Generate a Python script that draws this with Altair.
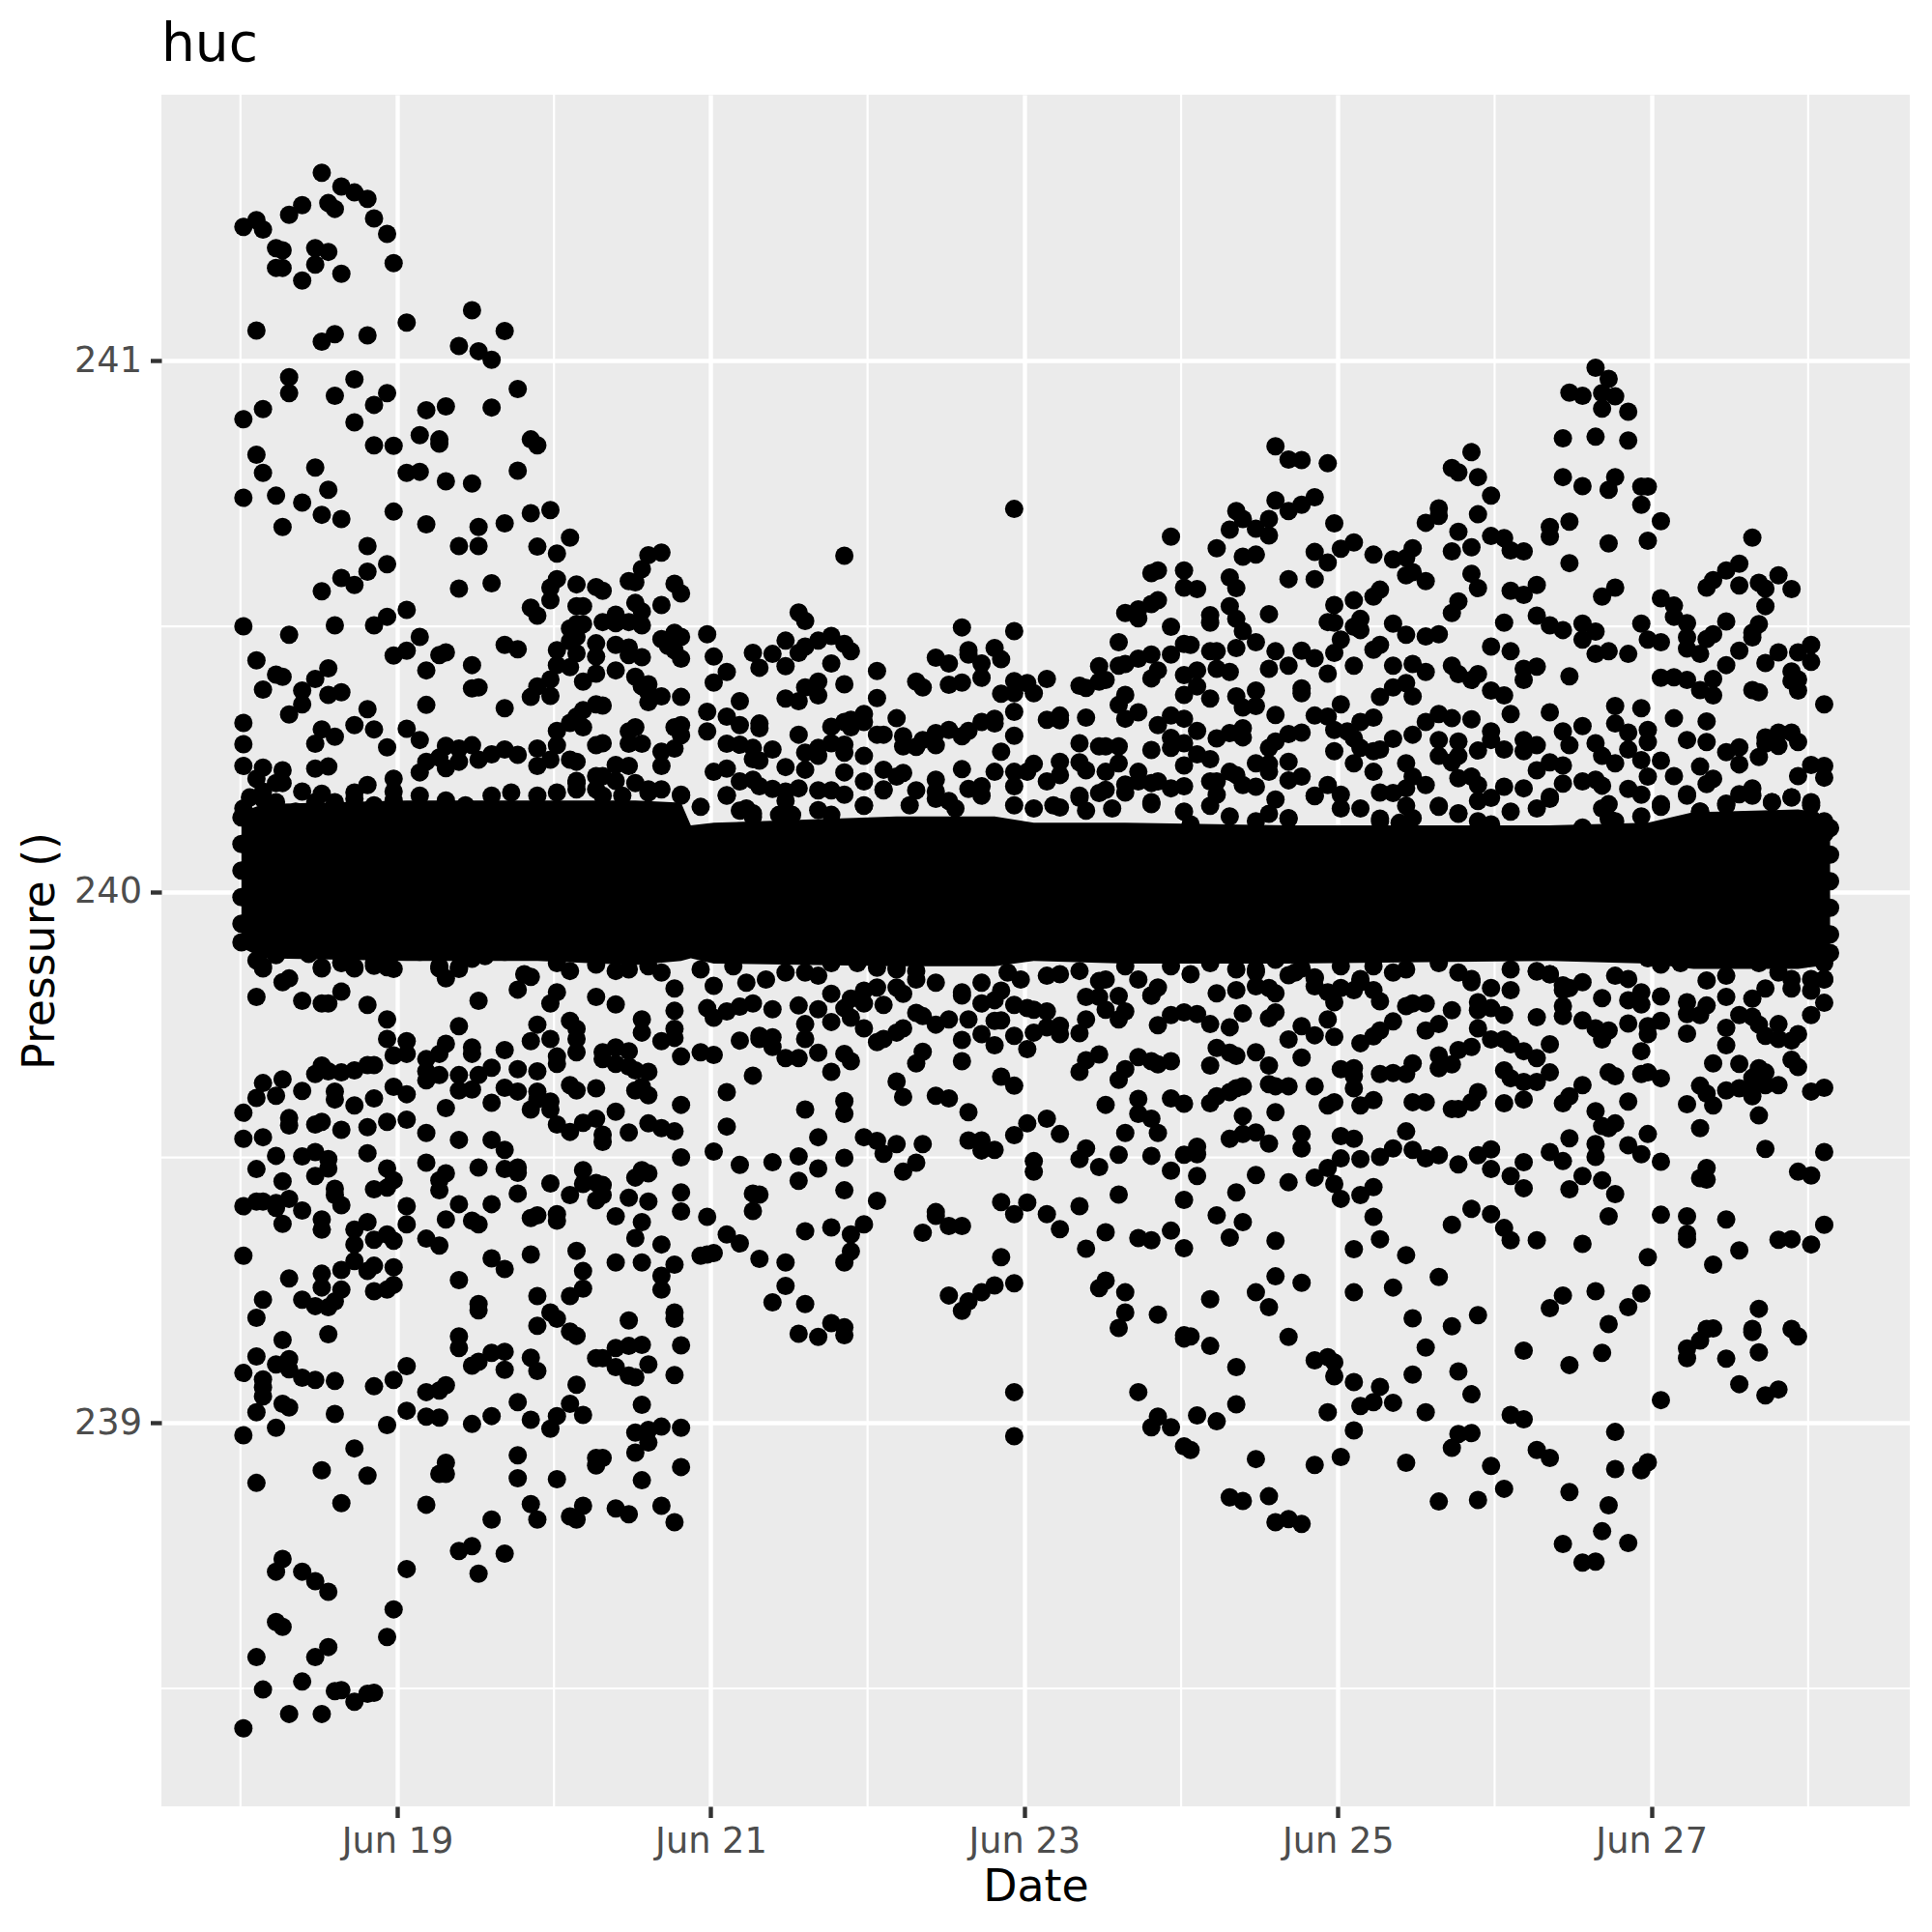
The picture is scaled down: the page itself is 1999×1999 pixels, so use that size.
import altair as alt
import pandas as pd

START = "2020-06-18 00:27"

# (hours since start, pressure), Jun 18 - Jun 21, above the dense band
upper_a = [(12,241.354),(15,241.328),(17,241.317),(19,241.305),(9,241.293),(7,241.275),(13,241.297),(14,241.286),(20,241.268),(2,241.265),(0,241.252),(3,241.247),(22,241.239),(5,241.212),(6,241.208),(11,241.212),(13,241.205),(5,241.175),(6,241.175),(11,241.181),(9,241.151),(15,241.164),(23,241.184),(35,241.095),(25,241.072),(2,241.057),(40,241.056),(14,241.05),(12,241.036),(19,241.048),(33,241.028),(36,241.018),(38,241.002),
(7,240.969),(7,240.939),(17,240.965),(42,240.947),(22,240.939),(14,240.934),(20,240.917),(31,240.914),(28,240.907),(38,240.912),(3,240.909),(0,240.89),(17,240.884),(27,240.86),(30,240.852),(30,240.844),(20,240.841),(23,240.84),(44,240.852),(45,240.841),(2,240.823),(11,240.799),(3,240.789),(25,240.789),(27,240.791),(31,240.773),(35,240.769),(42,240.793),(0,240.742),(5,240.746),(9,240.733),(13,240.757),(12,240.71),(15,240.702),(6,240.687),(23,240.716),(28,240.692),(36,240.687),(40,240.694),(44,240.713),(47,240.719),(50,240.667),(45,240.65),(48,240.637),(33,240.651),(36,240.651),(19,240.651),(22,240.617),(19,240.603),(15,240.591),(17,240.578),(12,240.566),(33,240.571),(38,240.581),(48,240.589),(47,240.573),(47,240.549),(51,240.579),(54,240.574),(55,240.567),(51,240.538),(52,240.538),(44,240.535),(45,240.52),
(64,240.639),(62,240.634),(61,240.608),(59,240.585),(60,240.583),(66,240.58),(67,240.562),(60,240.544),(64,240.54),(61,240.528),(25,240.531),(22,240.518),(20,240.502),(0,240.5),(14,240.502),(7,240.484),(27,240.48),(50,240.496),(51,240.504),(52,240.504),(51,240.48),(50,240.472),(55,240.508),(57,240.522),(57,240.506),(59,240.508),(61,240.502),(64,240.476),(66,240.488),(67,240.48),(65,240.463),(66,240.455),(67,240.439),(40,240.465),(42,240.457),(31,240.451),(30,240.446),(25,240.454),(23,240.445),(48,240.455),(54,240.468),(51,240.449),(54,240.443),(57,240.465),(59,240.46),(59,240.446),(61,240.442),(2,240.436),(13,240.421),(28,240.417),(35,240.427),(5,240.409),(6,240.405),(11,240.401),(3,240.381),(9,240.379),
(48,240.427),(50,240.423),(54,240.411),(57,240.417),(52,240.396),(47,240.4),(45,240.387),(47,240.369),(44,240.367),(60,240.405),(61,240.387),(62,240.391),(62,240.375),(64,240.368),(62,240.357),(67,240.367),(36,240.385),(35,240.383),(13,240.371),(15,240.376),(9,240.353),(7,240.334),(28,240.352),(40,240.346),(19,240.344),(54,240.353),(55,240.351),(52,240.342),(51,240.33),(50,240.318),(52,240.31),(48,240.303),(0,240.318),(0,240.278),(0,240.237),(17,240.314),(20,240.306),(25,240.307),(27,240.286),(12,240.306),(14,240.292),(11,240.279),(22,240.272),(60,240.31),(59,240.302),(59,240.279),(61,240.279),(66,240.31),(67,240.314),(67,240.295),(66,240.27),(64,240.264),(64,240.237),(54,240.276),(55,240.28),
(31,240.275),(33,240.27),(35,240.276),(38,240.259),(40,240.268),(42,240.258),(45,240.27),(48,240.276),(28,240.245),(30,240.253),(33,240.245),(36,240.249),(31,240.233),(45,240.237),(47,240.249),(50,240.249),(51,240.245),(27,240.225),(57,240.239),(59,240.237),(3,240.234),(6,240.229),(2,240.213),(5,240.205),(6,240.205),(11,240.232),(13,240.236),(23,240.213),(23,240.189),(19,240.201),(17,240.187),(9,240.189),(12,240.185),(3,240.189),(51,240.209),(51,240.193),(54,240.218),(57,240.209),(55,240.218),(54,240.193),(60,240.205),(62,240.193),(64,240.193),(67,240.183)]

# Jun 18 - Jun 21, below the dense band
lower_a = [(2,239.802),(6,239.83),(7,239.837),(9,239.795),(12,239.79),(13,239.79),(15,239.812),(19,239.787),(3,239.856),(12,239.856),(15,239.866),(17,239.856),(20,239.861),(23,239.855),(30,239.856),(31,239.837),(33,239.855),(35,239.874),(22,239.76),(22,239.723),(25,239.719),(25,239.695),(23,239.692),(36,239.795),(33,239.747),(31,239.714),(30,239.695),(28,239.685),(28,239.662),(28,239.645),(30,239.655),(35,239.707),(35,239.695),(40,239.702),(38,239.669),(42,239.666),(36,239.655),(33,239.655),(33,239.626),(35,239.628),(45,239.662),(43,239.845),(44,239.84),(42,239.816),(48,239.811),(47,239.79),(45,239.75),(44,239.719),(47,239.723),(50,239.757),(51,239.742),(51,239.723),(51,239.698),(54,239.802),(57,239.788),(61,239.76),(61,239.735),(66,239.818),(66,239.776),(66,239.742),(66,239.725),(64,239.719),(48,239.69),(48,239.676),
(55,239.698),(57,239.707),(59,239.7),(55,239.685),(57,239.676),(59,239.671),(60,239.664),(62,239.661),(67,239.69),(70,239.698),(50,239.636),(51,239.626),(54,239.63),(60,239.626),(61,239.633),(62,239.617),(40,239.631),(42,239.624),(45,239.624),(45,239.609),(47,239.605),(44,239.59),(47,239.59),(38,239.603),(31,239.593),(23,239.633),(25,239.619),(20,239.611),(17,239.598),(14,239.624),(14,239.609),(9,239.625),(6,239.647),(3,239.64),(2,239.612),(5,239.616),(11,239.657),(12,239.673),(13,239.662),(15,239.66),(17,239.664),(19,239.674),(20,239.674),(0,239.584),(0,239.535),(3,239.538),(7,239.574),(7,239.56),(11,239.562),(12,239.567),(15,239.552),(19,239.557),(22,239.567),(25,239.571),(28,239.546),(33,239.533),(38,239.533),(40,239.514),(48,239.562),(50,239.548),(52,239.565),(54,239.573),(55,239.543),(55,239.529),(57,239.586),(59,239.547),(62,239.564),(64,239.555),(66,239.549),(67,239.599),
(5,239.503),(9,239.502),(11,239.51),(13,239.497),(13,239.479),(11,239.465),(19,239.508),(2,239.478),(6,239.455),(28,239.49),(22,239.479),(23,239.457),(22,239.443),(20,239.44),(14,239.441),(14,239.429),(15,239.41),(0,239.408),(2,239.417),(3,239.417),(5,239.405),(7,239.422),(5,239.414),(9,239.4),(6,239.375),(12,239.383),(12,239.364),(31,239.47),(30,239.457),(30,239.438),(36,239.481),(40,239.478),(42,239.481),(42,239.471),(33,239.412),(38,239.412),(42,239.432),(47,239.451),(25,239.408),(25,239.374),(31,239.383),(35,239.381),(36,239.374),(44,239.386),(45,239.391),(48,239.393),(48,239.381),(52,239.476),(52,239.45),(54,239.452),(55,239.448),(55,239.429),(54,239.419),(50,239.429),(60,239.462),(61,239.476),(62,239.47),(59,239.424),(62,239.417),(57,239.389),(61,239.378),(60,239.348),(67,239.5),(67,239.434),(67,239.398),
(17,239.364),(19,239.378),(17,239.336),(20,239.345),(22,239.355),(23,239.343),(28,239.347),(30,239.334),(0,239.315),(38,239.31),(40,239.29),(44,239.317),(51,239.324),(52,239.286),(52,239.253),(50,239.239),(57,239.302),(61,239.302),(64,239.336),(66,239.298),(64,239.277),(64,239.251),(70,239.315),(17,239.305),(15,239.288),(19,239.286),(20,239.296),(23,239.293),(12,239.281),(12,239.255),(15,239.251),(7,239.272),(23,239.26),(22,239.251),(20,239.248),(33,239.269),(3,239.232),(2,239.198),(9,239.232),(11,239.22),(13,239.218),(14,239.229),(36,239.224),(36,239.212),(45,239.239),(47,239.208),(48,239.196),(45,239.183),(50,239.172),(51,239.164),(59,239.193),(66,239.208),(66,239.196),(13,239.167),(6,239.156),(33,239.163),(33,239.141),(2,239.125),(5,239.11),(7,239.12),(7,239.101),(9,239.085),(11,239.081),(0,239.094),(14,239.079),(3,239.082),(3,239.067),(3,239.05),(20,239.069),(23,239.081),(25,239.107),(28,239.058),(30,239.061),(31,239.071),(35,239.108),(36,239.115),(38,239.132),(40,239.134),(40,239.1),(44,239.123),(45,239.098),(54,239.122),(55,239.122),(57,239.141),(59,239.145),(61,239.147),(57,239.105),(59,239.089),(60,239.086),(62,239.11),(66,239.09),(67,239.146),(51,239.072),
(6,239.036),(7,239.029),(2,239.02),(14,239.017),(61,239.034),(42,239.039),(50,239.036),(48,239.013),(52,239.015),(44,239.006),(28,239.012),(30,239.01),(25,239.023),(38,239.013),(22,238.996),(35,238.998),(0,238.977),(5,238.991),(47,238.989),(60,238.982),(62,238.987),(64,238.993),(67,238.991),(62,238.963),(60,238.944),(17,238.952),(42,238.939),(54,238.934),(55,238.934),(54,238.92),(31,238.925),(30,238.904),(31,238.904),(12,238.911),(19,238.901),(2,238.887),(42,238.896),(48,238.894),(61,238.892),(67,238.917),(15,238.849),(28,238.846),(44,238.847),(45,238.818),(52,238.844),(50,238.824),(51,238.818),(57,238.839),(59,238.828),(64,238.844),(66,238.813),(38,238.818),(33,238.759),(35,238.768),(40,238.754),(36,238.716),(6,238.744),(5,238.72),(9,238.72),(11,238.702),(13,238.682),(25,238.725),(23,238.649),(22,238.597),(5,238.625),(6,238.616),(2,238.559),(13,238.578),(11,238.559),(3,238.498),(9,238.513),(14,238.495),(15,238.497),(17,238.475),(19,238.49),(20,238.492),(7,238.452),(12,238.452),(0,238.425)]

# Jun 21 - Jun 24
upper_b = [(118,240.721),(92,240.633),(142,240.669),(85,240.526),(86,240.51),(140,240.605),(139,240.6),(144,240.605),(144,240.573),(135,240.525),(137,240.532),(137,240.515),(139,240.542),(140,240.549),(110,240.498),(118,240.491),(142,240.499),(71,240.485),(83,240.473),(90,240.482),(88,240.473),(86,240.462),(85,240.45),(92,240.467),(93,240.453),(81,240.448),(78,240.45),(79,240.422),(83,240.425),(72,240.443),(74,240.414),(72,240.394),(90,240.43),(97,240.416),(92,240.391),(88,240.396),(86,240.385),(88,240.37),(85,240.359),(83,240.364),(97,240.365),(106,240.441),(108,240.43),(111,240.455),(111,240.447),(113,240.43),(113,240.403),(115,240.459),(116,240.438),(103,240.396),(104,240.385),(108,240.39),(110,240.394),(118,240.397),(120,240.393),(121,240.374),(118,240.374),(116,240.373),(123,240.401),(128,240.388),(129,240.384),(131,240.425),(132,240.399),(131,240.396),(134,240.47),(134,240.426),(135,240.429),(137,240.439),(139,240.447),(140,240.417),(139,240.402),(142,240.447),(144,240.467),(144,240.408),(144,240.371),
(135,240.371),(134,240.352),(135,240.326),(137,240.338),(76,240.359),(71,240.339),(74,240.33),(76,240.314),(71,240.302),(79,240.317),(79,240.308),(85,240.296),(95,240.335),(93,240.324),(95,240.32),(92,240.32),(90,240.311),(93,240.31),(100,240.327),(118,240.339),(118,240.294),(115,240.326),(115,240.317),(113,240.32),(111,240.303),(110,240.293),(108,240.305),(106,240.299),(104,240.286),(106,240.276),(103,240.273),(101,240.293),(101,240.274),(97,240.296),(98,240.296),(123,240.324),(125,240.332),(125,240.323),(129,240.328),(142,240.332),(144,240.326),(140,240.314),(142,240.29),(142,240.271),(144,240.28),(139,240.267),(74,240.279),(76,240.277),(78,240.271),(81,240.268),(78,240.25),(79,240.247),(90,240.28),(92,240.277),(92,240.262),(88,240.271),(88,240.256),(86,240.262),(95,240.256),(128,240.28),(131,240.274),(132,240.274),(134,240.274),(128,240.244),(129,240.229),(134,240.242),(116,240.264),(110,240.231),(125,240.245),(121,240.241),
(83,240.235),(86,240.23),(92,240.225),(74,240.232),(72,240.226),(98,240.23),(101,240.224),(100,240.217),(132,240.226),(137,240.226),(144,240.238),(76,240.208),(78,240.211),(79,240.199),(81,240.194),(83,240.189),(85,240.195),(95,240.208),(106,240.211),(106,240.189),(115,240.226),(118,240.226),(120,240.226),(113,240.199),(111,240.194),(125,240.22),(123,240.208),(88,240.191),(90,240.191),(92,240.183),(98,240.191),(103,240.191),(74,240.182),(135,240.202),(137,240.208),(139,240.205),(140,240.208),(142,240.195),(144,240.199),(128,240.177),(132,240.192),(131,240.186),(76,240.153),(78,240.141),(83,240.171),(95,240.162),(108,240.171),(125,240.159),(129,240.153),(139,240.165)]

lower_b = [(90,239.808),(95,239.814),(97,239.82),(93,239.799),(95,239.79),(100,239.854),(103,239.851),(100,239.82),(101,239.808),(98,239.787),(113,239.829),(110,239.805),(116,239.814),(115,239.796),(113,239.79),(81,239.779),(78,239.79),(76,239.784),(74,239.775),(85,239.786),(88,239.779),(71,239.781),(72,239.763),(92,239.781),(93,239.763),(90,239.755),(95,239.743),(86,239.751),(86,239.723),(76,239.72),(79,239.729),(81,239.726),(79,239.723),(81,239.708),(98,239.723),(101,239.743),(97,239.717),(100,239.735),(103,239.772),(104,239.766),(106,239.75),(108,239.76),(118,239.787),(120,239.781),(121,239.778),(123,239.775),(111,239.76),(110,239.721),(113,239.732),(115,239.711),(115,239.757),(116,239.758),(118,239.729),(121,239.735),(120,239.704),(123,239.745),(125,239.748),(125,239.732),(128,239.734),(129,239.802),(131,239.802),(134,239.804),(132,239.778),(135,239.775),(129,239.76),(134,239.76),(140,239.82),(139,239.805),(131,239.832),(140,239.749),(142,239.768),(144,239.773),
(72,239.693),(83,239.687),(85,239.687),(88,239.697),(92,239.695),(93,239.681),(90,239.661),(78,239.654),(74,239.623),(104,239.699),(103,239.677),(110,239.681),(100,239.643),(101,239.614),(116,239.652),(118,239.635),(106,239.616),(108,239.611),(111,239.585),(131,239.694),(129,239.683),(128,239.661),(137,239.689),(139,239.681),(140,239.675),(142,239.681),(135,239.666),(134,239.646),(132,239.599),(137,239.61),(137,239.582),(139,239.573),(140,239.546),(142,239.611),(144,239.601),(86,239.59),(92,239.606),(92,239.582),(74,239.558),(88,239.538),(95,239.538),(97,239.531),(100,239.525),(104,239.525),(98,239.507),(111,239.532),(113,239.532),(113,239.513),(115,239.514),(120,239.564),(118,239.542),(123,239.573),(125,239.544),(135,239.546),(129,239.517),(128,239.497),(134,239.505),(139,239.503),(144,239.505),
(72,239.511),(76,239.486),(81,239.491),(85,239.502),(88,239.479),(85,239.456),(92,239.499),(103,239.49),(101,239.473),(121,239.493),(121,239.473),(131,239.482),(142,239.475),(92,239.438),(78,239.432),(79,239.43),(78,239.399),(97,239.418),(134,239.43),(144,239.42),(116,239.416),(120,239.415),(118,239.393),(123,239.393),(125,239.365),(128,239.408),(71,239.388),(74,239.355),(76,239.338),(72,239.32),(71,239.317),(106,239.397),(106,239.39),(108,239.371),(110,239.371),(104,239.358),(95,239.374),(93,239.355),(90,239.368),(86,239.361),(93,239.323),(92,239.302),(132,239.359),(137,239.348),(139,239.344),(142,239.362),(144,239.329),(129,239.328),(79,239.309),(83,239.302),(83,239.258),(81,239.227),(86,239.224),(116,239.312),(118,239.263),(115,239.259),(113,239.246),(111,239.229),(110,239.211),(108,239.24),(132,239.268),(131,239.254),(135,239.246),(135,239.208),(134,239.179),(140,239.204),(90,239.188),(92,239.18),(92,239.165),(88,239.162),(85,239.168),(144,239.165),(144,239.159),(118,239.058),(118,238.975),(137,239.058),(140,239.012),(139,238.992),(142,238.992),(144,238.956)]

# Jun 24 - Jun 27
upper_c = [(207,240.987),(209,240.966),(203,240.94),(205,240.934),(208,240.939),(210,240.933),(208,240.91),(212,240.904),(202,240.854),(207,240.857),(212,240.85),(158,240.839),(160,240.814),(162,240.813),(166,240.807),(188,240.828),(185,240.798),(186,240.79),(189,240.781),(191,240.746),(189,240.711),(202,240.781),(205,240.764),(210,240.781),(209,240.757),(214,240.763),(215,240.763),(214,240.729),(217,240.698),(215,240.661),(203,240.697),(200,240.687),(200,240.669),(158,240.737),(160,240.717),(162,240.729),(164,240.743),(152,240.717),(153,240.702),(157,240.702),(155,240.684),(157,240.671),(151,240.682),(149,240.647),(153,240.631),(155,240.635),(167,240.694),(170,240.658),(168,240.646),(164,240.64),(166,240.62),(173,240.635),(176,240.626),(178,240.629),(179,240.647),(178,240.596),(179,240.602),(181,240.585),(183,240.722),(183,240.708),(181,240.695),(186,240.678),(185,240.641),(188,240.649),(188,240.599),(189,240.572),(191,240.67),(193,240.666),(194,240.643),(196,240.641),
(151,240.592),(152,240.572),(146,240.57),(160,240.589),(164,240.589),(194,240.567),(196,240.559),(198,240.578),(209,240.656),(203,240.619),(210,240.573),(208,240.556),(217,240.553),(186,240.547),(185,240.525),(174,240.569),(173,240.556),(170,240.549),(167,240.54),(151,240.538),(152,240.514),(153,240.491),(148,240.521),(148,240.507),(157,240.523),(166,240.508),(167,240.507),(171,240.514),(170,240.499),(171,240.493),(176,240.505),(178,240.484),(181,240.481),(183,240.485),(193,240.507),(198,240.52),(200,240.502),(202,240.493),(205,240.505),(207,240.49),(205,240.475),(214,240.505),(215,240.475),(217,240.47),(155,240.47),(152,240.459),(148,240.453),(149,240.453),(145,240.465),(158,240.453),(162,240.454),(164,240.44),(168,240.475),(167,240.45),(174,240.465),(173,240.456),(191,240.462),(194,240.453),(207,240.448),(209,240.453),(212,240.448),
(157,240.42),(160,240.426),(149,240.42),(151,240.414),(146,240.417),(166,240.411),(170,240.426),(176,240.426),(179,240.429),(181,240.414),(185,240.426),(186,240.41),(188,240.399),(189,240.41),(196,240.42),(198,240.424),(196,240.399),(203,240.406),(217,240.403),(162,240.383),(162,240.374),(155,240.379),(152,240.368),(148,240.364),(146,240.387),(176,240.385),(178,240.393),(174,240.367),(179,240.368),(191,240.379),(193,240.37),(153,240.347),(155,240.35),(158,240.333),(168,240.353),(194,240.335),(200,240.338),(210,240.35),(214,240.346),(164,240.332),(166,240.33),(173,240.328),(171,240.32),(181,240.32),(183,240.335),(185,240.327),(188,240.325),(153,240.308),(151,240.299),(149,240.289),(153,240.291),(146,240.303),(162,240.3),(160,240.297),(158,240.283),(157,240.271),
(167,240.305),(169,240.302),(170,240.289),(171,240.271),(173,240.265),(174,240.268),(176,240.288),(179,240.296),(183,240.286),(186,240.283),(183,240.256),(185,240.244),(186,240.256),(191,240.302),(191,240.286),(189,240.266),(193,240.268),(196,240.286),(198,240.276),(196,240.265),(202,240.302),(203,240.276),(205,240.312),(210,240.317),(212,240.3),(215,240.305),(215,240.282),(207,240.28),(208,240.256),(212,240.268),(210,240.242),(214,240.248),(217,240.247),(167,240.265),(160,240.245),(155,240.242),(157,240.241),(157,240.226),(148,240.25),(146,240.259),(170,240.242),(178,240.242),(173,240.226),(198,240.229),(200,240.244),(202,240.238),(151,240.226),(152,240.22),(160,240.21),(162,240.217),(148,240.208),(149,240.208),(153,240.201),(155,240.198),(149,240.183),(166,240.201),(164,240.18),(168,240.183),(186,240.214),(188,240.217),(189,240.201),(179,240.217),(181,240.201),(178,240.195),(176,240.186),(174,240.187),(193,240.198),(196,240.195),(205,240.208),(207,240.211),(208,240.2),(215,240.217),(212,240.194),(214,240.183),(202,240.204),(158,240.174),(148,240.162),(189,240.171),(191,240.177),(183,240.162),(200,240.179),(209,240.165),(217,240.165),(157,240.147),(160,240.138),(186,240.147),(174,240.138),(178,240.162),(209,240.138)]

lower_c = [(149,239.809),(152,239.815),(155,239.849),(155,239.822),(157,239.819),(158,239.809),(160,239.843),(162,239.856),(164,239.837),(164,239.822),(166,239.811),(167,239.792),(168,239.819),(170,239.815),(171,239.83),(173,239.815),(174,239.794),(146,239.77),(148,239.751),(151,239.745),(153,239.771),(157,239.762),(158,239.773),(166,239.76),(162,239.747),(164,239.73),(160,239.722),(167,239.727),(178,239.785),(179,239.79),(181,239.79),(176,239.756),(174,239.739),(173,239.728),(171,239.715),(185,239.777),(183,239.751),(181,239.739),(189,239.792),(189,239.777),(191,239.781),(193,239.768),(189,239.743),(191,239.722),(193,239.722),(194,239.713),(196,239.7),(198,239.687),(191,239.819),(194,239.815),(188,239.83),(198,239.85),(200,239.845),(202,239.815),(202,239.785),(202,239.766),(203,239.819),(198,239.764),(200,239.713),(208,239.8),(212,239.796),(214,239.811),(214,239.788),(217,239.803),(205,239.758),(207,239.743),(209,239.739),(208,239.722),(212,239.752),(215,239.747),(215,239.732),(217,239.757),(214,239.7),
(149,239.706),(151,239.697),(152,239.691),(155,239.698),(148,239.673),(157,239.673),(162,239.688),(183,239.692),(183,239.668),(185,239.675),(186,239.702),(188,239.708),(168,239.666),(170,239.668),(170,239.653),(174,239.657),(176,239.659),(178,239.657),(179,239.677),(193,239.664),(194,239.649),(196,239.642),(198,239.642),(200,239.66),(209,239.66),(210,239.653),(214,239.657),(215,239.66),(217,239.649),(205,239.636),(203,239.615),(202,239.602),(196,239.609),(193,239.602),(153,239.634),(152,239.63),(151,239.623),(149,239.615),(148,239.602),(157,239.638),(158,239.634),(160,239.634),(164,239.634),(170,239.63),(173,239.608),(171,239.598),(167,239.604),(166,239.598),(179,239.604),(181,239.604),(189,239.623),(188,239.604),(186,239.591),(185,239.591),(212,239.605),(207,239.587),(209,239.555),(210,239.564),(208,239.559),(153,239.578),(158,239.585),(155,239.547),(153,239.544),(151,239.535),(157,239.526),(162,239.544),(162,239.517),(168,239.54),(170,239.535),(178,239.549),(176,239.517),(174,239.501),(179,239.514),(181,239.498),(183,239.504),(186,239.487),(189,239.504),(191,239.515),(146,239.52),(146,239.506),(168,239.498),(171,239.497),(200,239.51),(202,239.493),(203,239.536),(207,239.525),(207,239.501),(212,239.523),(214,239.506),(215,239.544),(217,239.492),
(146,239.465),(155,239.467),(160,239.453),(164,239.462),(166,239.48),(167,239.45),(168,239.422),(152,239.434),(171,239.429),(173,239.444),(191,239.478),(194,239.465),(196,239.442),(196,239.491),(203,239.44),(205,239.465),(208,239.457),(210,239.431),(149,239.391),(153,239.378),(151,239.349),(158,239.343),(173,239.388),(174,239.346),(170,239.327),(178,239.316),(185,239.373),(188,239.403),(191,239.393),(193,239.367),(194,239.344),(198,239.344),(205,239.337),(209,239.389),(217,239.392),(215,239.312),(158,239.276),(155,239.246),(157,239.218),(162,239.264),(148,239.233),(170,239.246),(176,239.255),(183,239.275),(189,239.203),(185,239.182),(179,239.197),(181,239.142),(200,239.216),(202,239.24),(207,239.248),(212,239.218),(214,239.244),(209,239.186),(160,239.162),(148,239.145),(145,239.163),(196,239.136),(208,239.132),(203,239.109),(152,239.105),(164,239.118),(166,239.124),(167,239.114),(167,239.088),(170,239.077),(174,239.068),(179,239.091),(186,239.097),(188,239.054),(217,239.043),(173,239.039),(171,239.032),(176,239.038),(152,239.035),(166,239.02),(181,239.02),(146,239.014),(149,239.003),(194,239.015),(196,239.007),
(170,238.986),(186,238.979),(188,238.981),(185,238.953),(210,238.983),(155,238.932),(164,238.921),(168,238.936),(178,238.925),(191,238.919),(198,238.949),(200,238.934),(210,238.913),(214,238.911),(215,238.926),(145,238.949),(151,238.86),(153,238.853),(157,238.862),(183,238.852),(189,238.855),(193,238.876),(203,238.87),(209,238.845),(158,238.813),(160,238.819),(162,238.81),(208,238.796),(202,238.772),(212,238.774),(205,238.737),(207,238.739)]

# Jun 27 - Jun 28
upper_d = [(231,240.667),(229,240.618),(227,240.605),(225,240.587),(224,240.573),(229,240.577),(232,240.582),(233,240.571),(235,240.596),(237,240.57),(233,240.538),(219,240.539),(219,240.518),(221,240.506),(227,240.509),(232,240.504),(231,240.488),(231,240.479),(225,240.485),(224,240.476),(221,240.479),(221,240.458),(223,240.448),(229,240.454),(227,240.427),(233,240.431),(235,240.451),(238,240.451),(240,240.465),(240,240.433),(237,240.415),(237,240.397),(238,240.4),(238,240.379),(219,240.404),(221,240.399),(223,240.38),(225,240.401),(225,240.37),(231,240.38),(232,240.376),(242,240.353),(219,240.327),(221,240.286),(224,240.321),(224,240.282),(227,240.263),(229,240.272),(229,240.24),(233,240.291),(233,240.279),(235,240.3),(235,240.275),(237,240.3),(238,240.282),(232,240.254),(223,240.236),(219,240.218),(225,240.213),(224,240.203),(240,240.239),(242,240.237),(238,240.218),(242,240.215),(231,240.195),(229,240.184),(221,240.184),(227,240.166),(234,240.169),(237,240.178),(240,240.169),(223,240.151)]

lower_d = [(221,239.792),(221,239.77),(224,239.786),(223,239.768),(227,239.802),(231,239.799),(233,239.818),(237,239.818),(240,239.814),(242,239.835),(242,239.791),(240,239.768),(229,239.768),(231,239.765),(227,239.744),(232,239.75),(235,239.751),(238,239.732),(233,239.729),(235,239.723),(237,239.72),(227,239.711),(221,239.733),(225,239.677),(229,239.676),(232,239.668),(233,239.66),(237,239.684),(238,239.67),(231,239.65),(231,239.632),(229,239.63),(227,239.626),(233,239.636),(235,239.636),(231,239.615),(223,239.635),(224,239.62),(225,239.598),(221,239.6),(232,239.579),(240,239.624),(242,239.631),(223,239.555),(233,239.516),(242,239.51),(224,239.48),(223,239.461),(224,239.458),(238,239.473),(240,239.466),(221,239.389),(221,239.356),(221,239.346),(227,239.383),(242,239.373),(235,239.345),(237,239.346),(240,239.336),(229,239.325),(225,239.298),(232,239.215),(231,239.177),(231,239.171),(237,239.177),(238,239.163),(225,239.178),(224,239.177),(223,239.155),(221,239.14),(221,239.122),(232,239.133),(227,239.121),(229,239.073),(233,239.052),(235,239.063)]

# readings along the top and bottom of the solid run
edge_top = [(0,240.157),(1,240.178),(3,240.175),(5,240.169),(8,240.151),(11,240.169),(14,240.169),(17,240.175),(20,240.163),(23,240.172),(27,240.181),(31,240.172),(34,240.163),(38,240.181),(41,240.187),(45,240.181),(48,240.187),(51,240.205),(55,240.181),(58,240.181),(62,240.187),(67,240.181),
(70,240.16),(74,240.181),(77,240.157),(78,240.148),(82,240.145),(84,240.145),(88,240.154),(90,240.145),(95,240.163),(98,240.193),(102,240.163),(106,240.175),(109,240.157),(113,240.181),(118,240.199),(118,240.163),(121,240.157),(124,240.163),(128,240.181),(133,240.157),(135,240.187),(139,240.169),(144,240.151),(145,240.127),(151,240.142),(155,240.133),(160,240.139),(164,240.181),(168,240.157),
(171,240.157),(174,240.133),(177,240.13),(179,240.139),(183,240.16),(186,240.148),(189,240.133),(191,240.127),(194,240.151),(198,240.157),(200,240.175),(205,240.121),(208,240.157),(210,240.133),(214,240.142),(217,240.16),(221,240.181),(223,240.151),(227,240.163),(231,240.181),(234,240.169),(237,240.178),(240,240.163),(242,240.133),(242,240.109)]

edge_low = [(2,239.871),(3,239.86),(5,239.881),(10,239.883),(12,239.858),(15,239.867),(17,239.858),(20,239.867),(22,239.858),(24,239.89),(27,239.887),(30,239.86),(33,239.858),(35,239.876),(37,239.879),(40,239.887),(43,239.89),(48,239.866),(50,239.851),(54,239.863),(57,239.851),(59,239.854),(62,239.86),(64,239.848),
(70,239.854),(72,239.823),(75,239.86),(77,239.829),(80,239.835),(83,239.848),(86,239.848),(88,239.842),(90,239.866),(94,239.866),(97,239.857),(100,239.857),(103,239.835),(106,239.829),(110,239.811),(117,239.848),(119,239.835),(123,239.842),(125,239.845),(128,239.851),(132,239.835),(135,239.86),(137,239.835),(139,239.805),(142,239.86),(145,239.845),(148,239.866),(152,239.854),(155,239.854),(158,239.872),(161,239.848),(164,239.839),(168,239.86),
(171,239.836),(173,239.86),(176,239.848),(178,239.854),(183,239.866),(186,239.848),(188,239.836),(194,239.854),(198,239.851),(200,239.845),(202,239.824),(205,239.83),(210,239.842),(212,239.836),(215,239.875),(217,239.863),(220,239.866),(224,239.833),(227,239.842),(232,239.866),(235,239.848),(237,239.836),(240,239.836),(242,239.866),(242,239.836)]

# the two ends of the solid run
edge_ends = [(-0.3,240.14),(-0.3,240.09),(-0.3,240.04),(-0.3,239.99),(-0.3,239.94),(-0.3,239.905),(242.9,240.12),(242.9,240.07),(242.9,240.02),(242.9,239.97),(242.9,239.92),(242.9,239.885)]

# the solid run of overlapping readings around 240
band_hours = [-0.3,3,25,45,60,67,68.5,72,100,115,121,135,160,200,215,222,238,241,242.9]
band_high  = [240.15,240.165,240.172,240.172,240.172,240.168,240.125,240.13,240.142,240.142,240.13,240.13,240.125,240.125,240.13,240.15,240.155,240.15,240.125]
band_low   = [239.895,239.875,239.87,239.87,239.862,239.87,239.875,239.865,239.86,239.86,239.87,239.865,239.865,239.87,239.865,239.855,239.855,239.86,239.885]

major_x = [19,21,23,25,27]
minor_x = ["2020-06-18","2020-06-20","2020-06-22","2020-06-24","2020-06-26","2020-06-28"]
minor_y = [238.5,239.5,240.5]
major_y = [239,240,241]

points = upper_a + lower_a + upper_b + lower_b + upper_c + lower_c + upper_d + lower_d + edge_top + edge_low + edge_ends
pts = pd.DataFrame(points, columns=["hour","pressure"])
t0 = pd.Timestamp(START)
pts["date"] = t0 + pd.to_timedelta(pts["hour"], unit="h")
band = pd.DataFrame({"hour":band_hours,"high":band_high,"low":band_low})
band["date"] = t0 + pd.to_timedelta(band["hour"], unit="h")

xscale = alt.Scale(domain=[alt.DateTime(year=2020,month=6,date=17,hours=11,minutes=54),
                           alt.DateTime(year=2020,month=6,date=28,hours=15,minutes=33)])
yscale = alt.Scale(domain=[238.278,241.501], nice=False, zero=False)

x_axis = alt.Axis(values=[alt.DateTime(year=2020,month=6,date=d) for d in major_x], format="%b %d",
                  title="Date", grid=True, gridColor="white", gridWidth=4.4, domain=False,
                  tickColor="#333333", tickWidth=4.4, tickSize=11.5,
                  labelColor="#4D4D4D", labelFontSize=36.7, labelFont="DejaVu Sans", labelPadding=7, labelFlush=False, labelOverlap=False,
                  titleColor="black", titleFont="DejaVu Sans", titleFontSize=45.8, titleFontWeight="normal", titlePadding=6)
y_axis = alt.Axis(values=major_y, format="d", title="Pressure ()", grid=True, gridColor="white", gridWidth=4.4, domain=False,
                  tickColor="#333333", tickWidth=4.4, tickSize=11.5,
                  labelColor="#4D4D4D", labelFontSize=36.7, labelFont="DejaVu Sans", labelPadding=9, labelOverlap=False,
                  titleColor="black", titleFont="DejaVu Sans", titleFontSize=45.8, titleFontWeight="normal", titlePadding=11)

minor_v = alt.Chart(pd.DataFrame({"d":pd.to_datetime(minor_x)})).mark_rule(color="white", strokeWidth=2.2).encode(
    x=alt.X("d:T", scale=xscale, axis=x_axis))
minor_h = alt.Chart(pd.DataFrame({"v":minor_y})).mark_rule(color="white", strokeWidth=2.2).encode(
    y=alt.Y("v:Q", scale=yscale, axis=y_axis))
band_layer = alt.Chart(band).mark_area(color="black", opacity=1).encode(
    x=alt.X("date:T", scale=xscale, axis=x_axis),
    y=alt.Y("high:Q", scale=yscale, axis=y_axis),
    y2="low:Q")
dots = alt.Chart(pts).mark_circle(color="black", size=361, opacity=1).encode(
    x=alt.X("date:T", scale=xscale, axis=x_axis),
    y=alt.Y("pressure:Q", scale=yscale, axis=y_axis))

chart = alt.layer(minor_v, minor_h, band_layer, dots).properties(
    width=1809, height=1771,
    title=alt.TitleParams("huc", anchor="start", frame="group", fontSize=55, fontWeight="normal", color="black", offset=22, font="DejaVu Sans"),
    padding={"left":159,"top":90,"right":0,"bottom":120},
    autosize=alt.AutoSizeParams(type="none"),
    background="white",
).configure_view(fill="#EBEBEB", stroke=None)

chart.save("out.html", embed_options={"renderer": "svg", "actions": False})
